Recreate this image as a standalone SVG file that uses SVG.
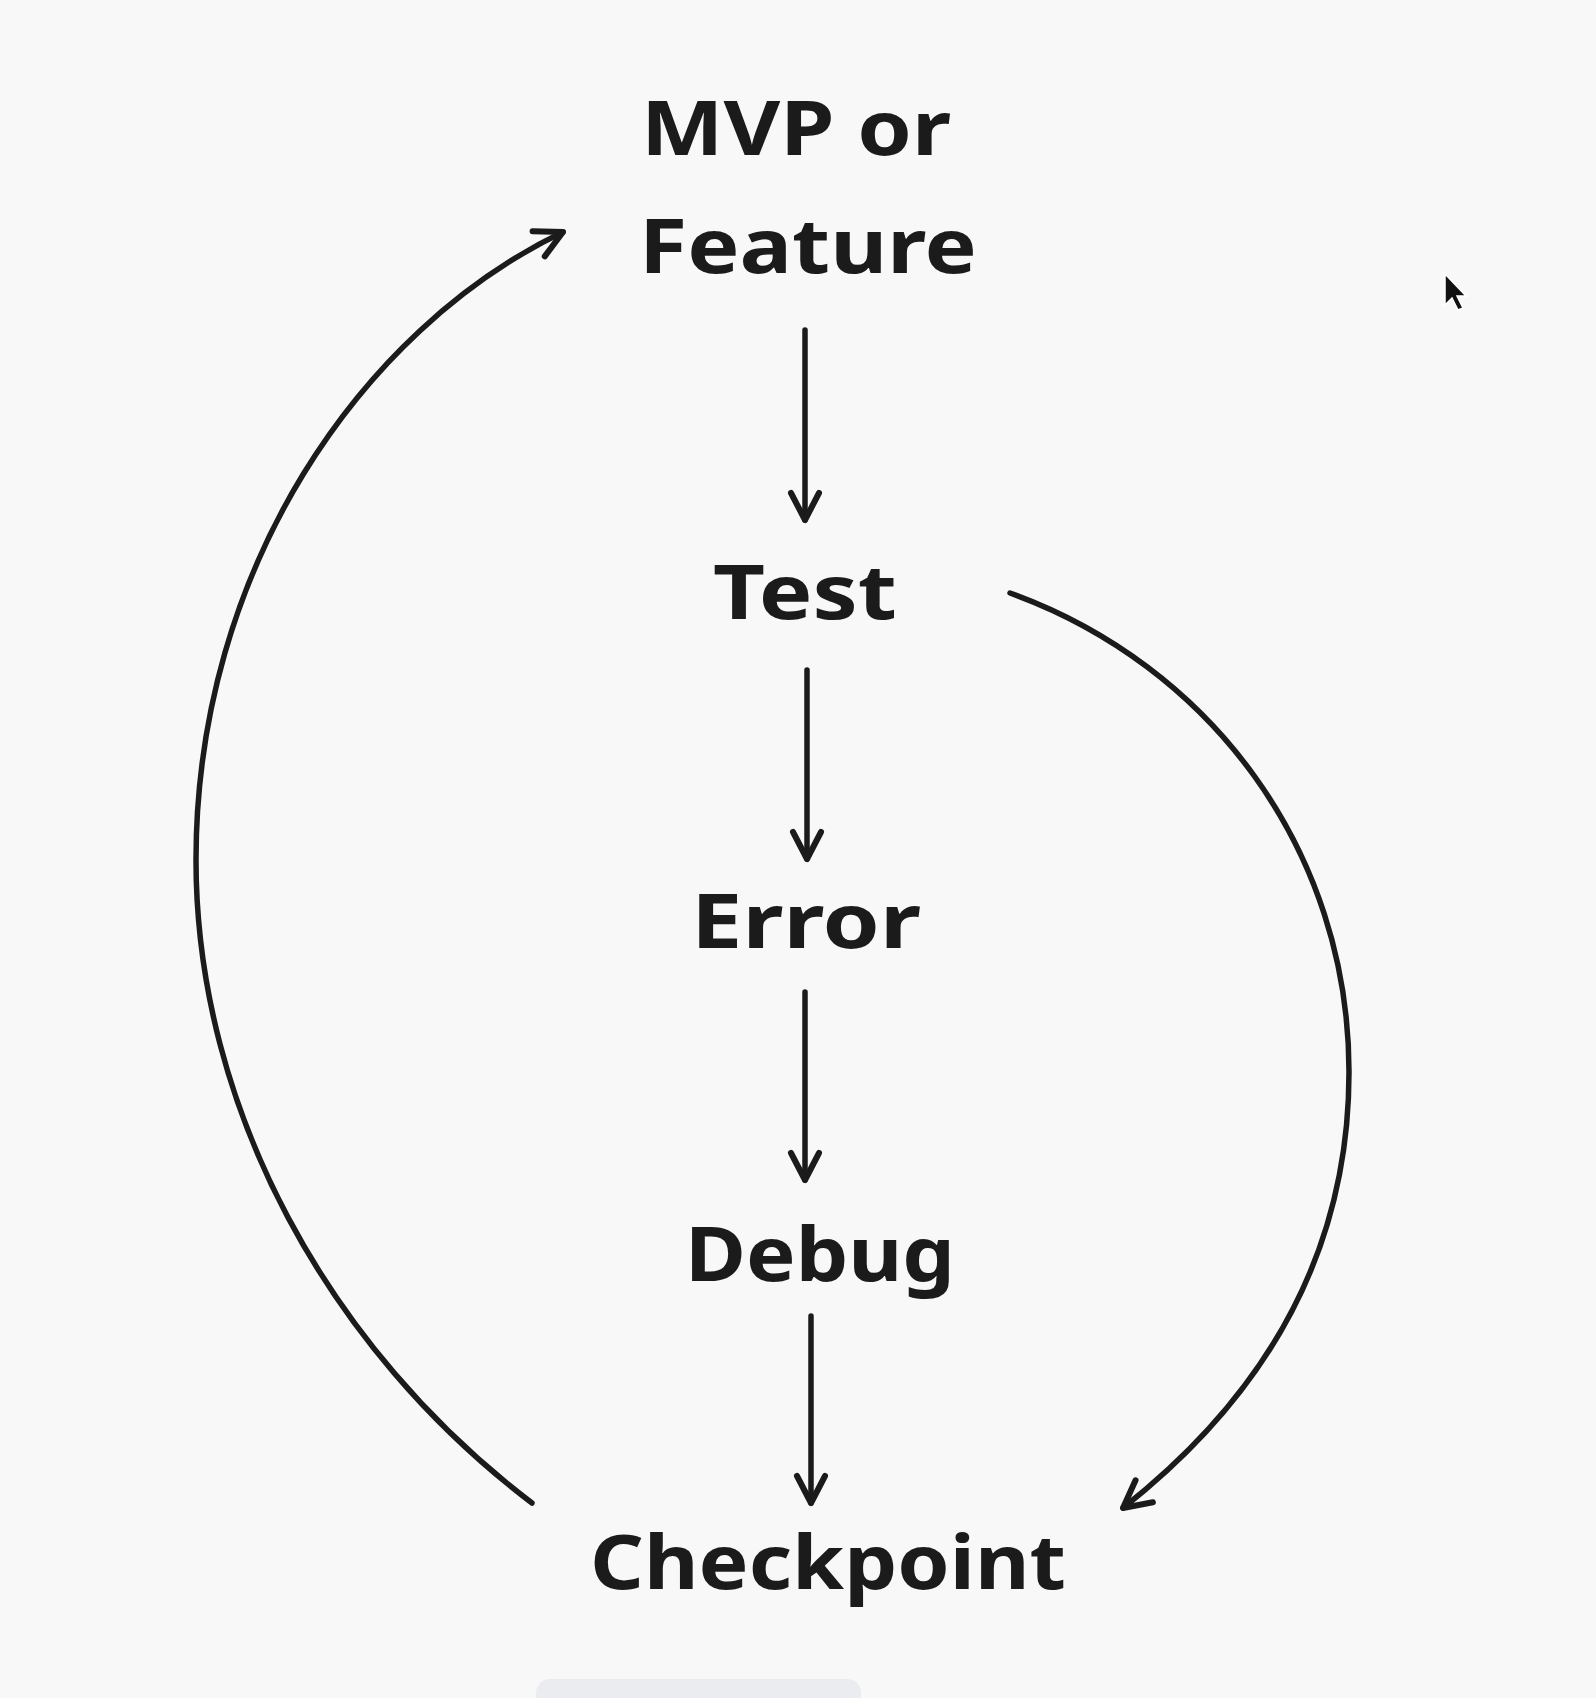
<svg xmlns="http://www.w3.org/2000/svg" width="1596" height="1698" viewBox="0 0 1596 1698">
<style>
.lbl{font-family:"Noto Sans","Lato",sans-serif;font-weight:700;font-size:75px;fill:#1b1b1b;text-anchor:middle}
.edge{fill:none;stroke:#1b1b1b;stroke-width:5.5;stroke-linecap:round;stroke-linejoin:round}
</style>
<defs>
<marker id="ah" markerUnits="userSpaceOnUse" viewBox="-32 -18 40 36" refX="0" refY="0" markerWidth="40" markerHeight="36" orient="auto" overflow="visible">
<path d="M-27,-14 L0,0 L-27,14" fill="none" stroke="#1b1b1b" stroke-width="6" stroke-linecap="round" stroke-linejoin="round"/>
</marker>
</defs>
<rect width="1596" height="1698" fill="#f8f8f8"/>
<rect x="536" y="1679" width="325" height="30" rx="14" fill="#ebecef"/>
<g id="connectors">
<path class="edge" d="M805,330 L805,520" marker-end="url(#ah)"/>
<path class="edge" d="M807,670 L807,859" marker-end="url(#ah)"/>
<path class="edge" d="M805,992 L805,1180" marker-end="url(#ah)"/>
<path class="edge" d="M811,1316 L811,1503" marker-end="url(#ah)"/>
<path class="edge" d="M532,1503 C330,1350 196,1110 196,860 C196,570 360,330 563,232" marker-end="url(#ah)"/>
<path class="edge" d="M1010,593 C1210,665 1349,850 1349,1072 C1349,1260 1260,1400 1123,1508" marker-end="url(#ah)"/>
</g>
<g id="node-mvp"><text class="lbl" x="796" y="155" textLength="310" lengthAdjust="spacingAndGlyphs">MVP or</text><text class="lbl" x="808" y="273" textLength="338" lengthAdjust="spacingAndGlyphs">Feature</text></g>
<g id="node-test"><text class="lbl" x="805" y="619" textLength="184" lengthAdjust="spacingAndGlyphs">Test</text></g>
<g id="node-error"><text class="lbl" x="806" y="948" textLength="230" lengthAdjust="spacingAndGlyphs">Error</text></g>
<g id="node-debug"><text class="lbl" x="820" y="1281" textLength="270" lengthAdjust="spacingAndGlyphs">Debug</text></g>
<g id="node-checkpoint"><text class="lbl" x="828" y="1589" textLength="476" lengthAdjust="spacingAndGlyphs">Checkpoint</text></g>
<g id="cursor"><path d="M1445,274 L1445,305 L1452,298 L1458,310 L1463,308 L1457,296 L1466,296 Z" fill="#111" stroke="#fff" stroke-width="1.5"/></g>
</svg>
